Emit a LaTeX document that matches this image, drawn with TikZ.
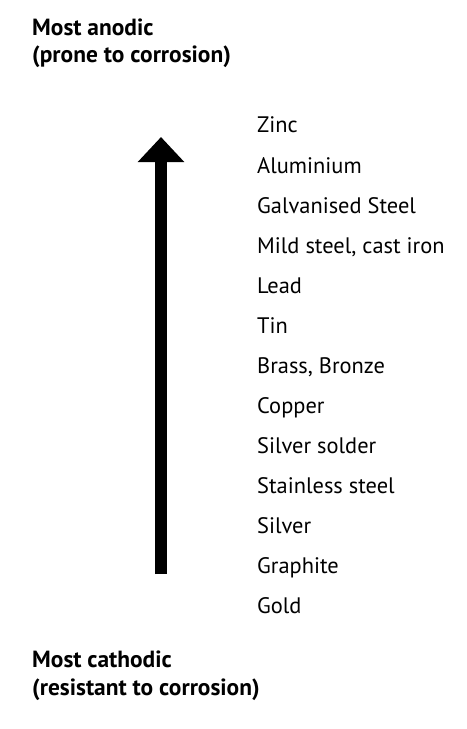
\documentclass[tikz,border=0pt]{standalone}
\usepackage{fontspec}
\setmainfont{PT Sans}
\usetikzlibrary{arrows.meta}
\begin{document}
\begin{tikzpicture}[x=1bp,y=-1bp,
    metal/.style={anchor=base west,inner sep=0pt,font=\fontsize{22.5}{26}\selectfont},
    title/.style={anchor=base west,inner sep=0pt,font=\fontsize{23.5}{27}\selectfont\bfseries}]
    \useasboundingbox (0,0) rectangle (467,729);
    \node[title] (anodic) at (32,36) {Most anodic};
    \node[title] (anodicnote) at (32,63) {(prone to corrosion)};
    \foreach \name [count=\i] in {Zinc,Aluminium,Galvanised Steel,{Mild steel, cast iron},Lead,Tin,{Brass, Bronze},Copper,Silver solder,Stainless steel,Silver,Graphite,Gold}
        \node[metal] (m\i) at (257,93+40*\i) {\name};
    \coordinate (low) at (161,574);
    \coordinate (high) at (161,137);
    \draw[line width=12bp,-{Triangle[width=45bp,length=25bp]}] (low)--(high);
    \node[title] (cathodic) at (32,667) {Most cathodic};
    \node[title] (cathodicnote) at (32,695) {(resistant to corrosion)};
\end{tikzpicture}
\end{document}
